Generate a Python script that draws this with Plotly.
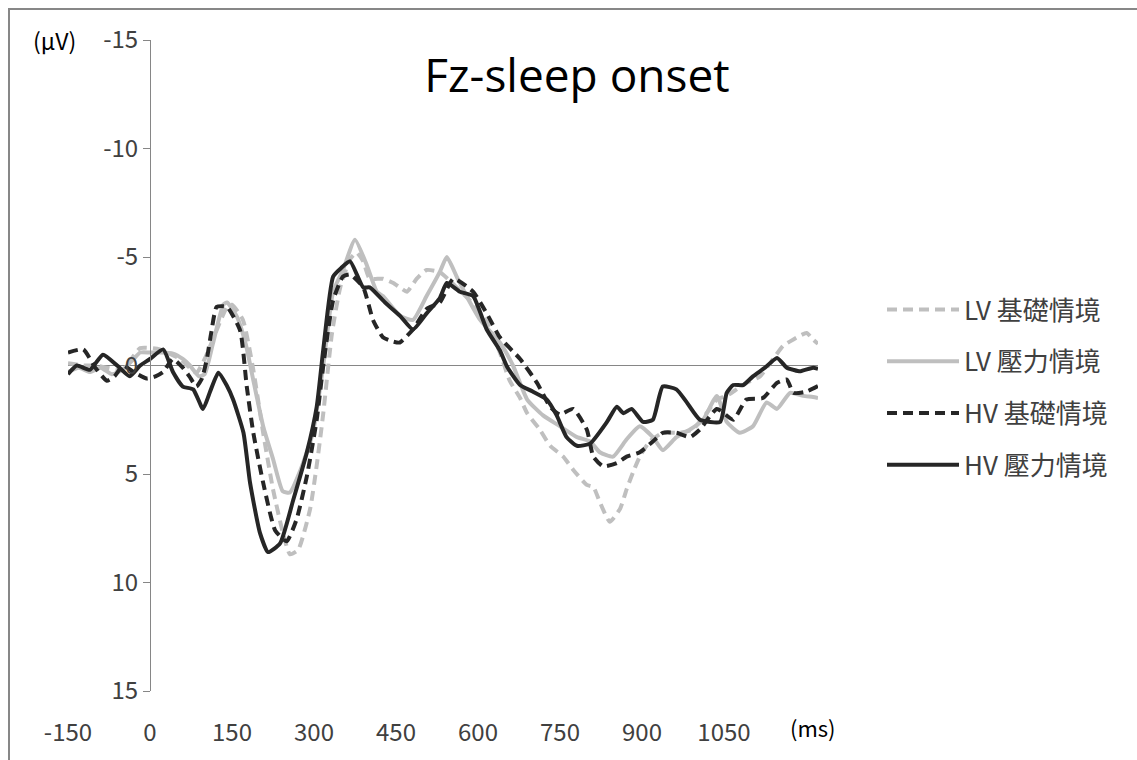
import plotly.graph_objects as go

# ---------------- data ----------------
series_names = ["LV 基礎情境", "LV 壓力情境", "HV 基礎情境", "HV 壓力情境"]

lv_base_t = [-150, -122, -100, -79, -50, -18, 18, 55, 85, 100, 115, 141, 150, 170, 189, 207, 225, 243, 256,
             271, 293, 305, 317, 333, 348, 366, 378, 390, 402, 426, 445, 457, 470, 488, 506, 530, 561, 585,
             616, 640, 658, 677, 690, 713, 732, 756, 774, 799, 811, 823, 841, 860, 872, 884, 896, 914, 938,
             969, 993, 1018, 1037, 1055, 1073, 1091, 1116, 1140, 1158, 1177, 1201, 1213, 1222]
lv_base_v = [-0.1, 0.0, 0.0, 0.1, 0.2, -0.8, -0.74, -0.3, 0.33, -0.3, -1.2, -2.7, -2.8, -2.1, 0.2, 3.1, 5.7,
             7.7, 8.7, 8.5, 6.6, 4.6, 2.2, -1.5, -3.6, -4.9, -5.2, -4.8, -4.0, -4.0, -3.8, -3.6, -3.4, -4.0,
             -4.4, -4.3, -3.6, -3.0, -2.0, -0.6, 0.7, 1.5, 2.2, 2.95, 3.7, 4.2, 4.8, 5.5, 5.6, 6.3, 7.2, 6.6,
             5.7, 4.9, 4.2, 3.5, 3.1, 3.1, 2.95, 2.2, 1.57, 1.4, 1.1, 0.8, 0.5, -0.3, -0.9, -1.2, -1.5, -1.2, -1.0]

lv_stress_t = [-150, -130, -110, -90, -70, -50, -30, -18, 0, 20, 42, 60, 73, 90, 100, 115, 134, 141, 160, 175,
               190, 207, 225, 243, 256, 274, 298, 317, 335, 353, 375, 397, 415, 426, 457, 481, 506, 530, 543,
               561, 579, 604, 640, 664, 690, 719, 750, 781, 805, 823, 847, 872, 896, 920, 938, 963, 988, 1012,
               1037, 1055, 1079, 1103, 1128, 1147, 1171, 1195, 1213, 1222]
lv_stress_v = [0.3, 0.1, 0.3, 0.1, 0.4, 0.2, -0.3, -0.6, -0.6, -0.6, -0.55, -0.3, 0.0, 0.5, 0.4, -1.0, -2.8,
               -2.9, -2.2, -1.0, 0.8, 2.8, 4.3, 5.8, 5.85, 4.9, 3.1, 0.0, -3.4, -4.4, -5.8, -4.6, -3.4, -3.2,
               -2.3, -2.1, -3.2, -4.3, -5.0, -4.1, -3.2, -2.1, -1.06, 0.0, 1.57, 2.3, 2.8, 3.3, 3.5, 4.0, 4.2,
               3.4, 2.8, 3.3, 3.9, 3.3, 2.95, 2.5, 1.4, 2.6, 3.1, 2.8, 1.7, 2.0, 1.26, 1.4, 1.45, 1.5]

hv_base_t = [-150, -122, -100, -79, -65, -49, -30, -6, 10, 24, 42, 60, 72, 85, 95, 104, 112, 122, 141, 165,
             177, 189, 207, 229, 250, 268, 287, 305, 317, 335, 353, 366, 390, 408, 426, 445, 457, 481, 506,
             530, 555, 591, 616, 640, 677, 708, 732, 750, 774, 799, 811, 829, 854, 872, 896, 920, 938, 963,
             988, 1006, 1037, 1067, 1091, 1121, 1147, 1165, 1177, 1201, 1222]
hv_base_v = [-0.6, -0.74, 0.1, 0.7, 0.5, 0.0, 0.3, 0.6, 0.5, 0.3, -0.3, 0.1, 0.5, 0.97, 0.6, -0.3, -1.5,
             -2.7, -2.7, -1.6, 0.97, 3.1, 5.4, 7.6, 8.1, 7.1, 5.1, 2.5, 0.0, -3.0, -4.1, -4.2, -3.6, -2.1,
             -1.3, -1.1, -1.06, -1.66, -2.6, -2.9, -4.0, -3.4, -2.4, -1.3, -0.3, 0.8, 1.9, 2.26, 2.0, 2.95,
             4.2, 4.65, 4.5, 4.2, 4.0, 3.5, 3.1, 3.1, 3.3, 2.95, 2.0, 2.5, 1.57, 1.5, 0.8, 0.65, 1.26, 1.2, 0.95]

hv_stress_t = [-150, -134, -110, -86, -60, -37, -18, 0, 24, 42, 60, 79, 97, 110, 125, 140, 152, 171, 183, 201,
               216, 238, 262, 287, 305, 317, 335, 350, 366, 390, 402, 430, 457, 481, 506, 530, 543, 567, 591,
               616, 640, 653, 677, 700, 726, 744, 762, 781, 805, 836, 854, 866, 881, 902, 920, 938, 963, 982,
               1006, 1043, 1055, 1067, 1085, 1103, 1125, 1147, 1165, 1177, 1189, 1213, 1222]
hv_stress_v = [0.4, 0.0, 0.2, -0.5, 0.0, 0.5, 0.0, -0.3, -0.74, 0.3, 0.97, 1.1, 2.0, 1.2, 0.33, 0.9, 1.57, 3.1,
               5.4, 7.7, 8.6, 8.2, 6.2, 4.0, 1.9, -0.74, -4.1, -4.5, -4.8, -3.6, -3.6, -2.9, -2.3, -1.66, -2.4,
               -3.1, -3.8, -3.4, -3.2, -1.66, -0.7, 0.05, 0.9, 1.2, 1.57, 2.3, 3.3, 3.7, 3.6, 2.6, 1.9, 2.2,
               2.0, 2.6, 2.5, 0.97, 1.1, 1.7, 2.5, 2.6, 1.26, 0.9, 0.9, 0.5, 0.1, -0.35, 0.1, 0.2, 0.27, 0.1, 0.15]

x_ticks = [-150, 0, 150, 300, 450, 600, 750, 900, 1050]
y_ticks = [-15, -10, -5, 0, 5, 10, 15]

# ---------------- figure ----------------
W, H = 1137, 760
ML, MR, MT, MB = 68, 319, 40, 69
PW, PH = W - ML - MR, H - MT - MB

GRAY = "#bfbfbf"
DARK = "#262626"
styles = [
    dict(color=GRAY, width=4, dash="10px,6px"),
    dict(color=GRAY, width=4),
    dict(color=DARK, width=4, dash="10px,6px"),
    dict(color=DARK, width=4),
]
data = [(lv_base_t, lv_base_v), (lv_stress_t, lv_stress_v), (hv_base_t, hv_base_v), (hv_stress_t, hv_stress_v)]

fig = go.Figure()
for i, (name, (t, v)) in enumerate(zip(series_names, data)):
    ln = dict(styles[i])
    ln.update(shape="spline", smoothing=0.5)
    fig.add_trace(go.Scatter(x=t, y=v, mode="lines", name=name, line=ln,
                             legendgroup=str(i)))

font_main = "Noto Sans CJK TC, sans-serif"
TXT = "#404040"

def px_x(p):
    return (p - ML) / PW

def px_y(p):
    return (H - MB - p) / PH

fig.update_layout(
    width=W, height=H,
    margin=dict(l=ML, r=MR, t=MT, b=MB),
    paper_bgcolor="white", plot_bgcolor="white",
    font=dict(family=font_main, size=24, color=TXT),
    title=dict(text="Fz-sleep onset", x=px_x(577), xref="paper", xanchor="center",
               y=1 - 76 / H, yanchor="middle",
               font=dict(size=46, color="black", family="Open Sans, sans-serif")),
    showlegend=True,
    legend=dict(x=px_x(882), y=px_y(286), xanchor="left", yanchor="top",
                font=dict(size=26, color=TXT), tracegroupgap=15, itemwidth=72,
                bgcolor="rgba(0,0,0,0)"),
    xaxis=dict(range=[-150, 1222], tickvals=x_ticks, ticktext=[str(v) for v in x_ticks],
               showgrid=False, zeroline=False, showline=False, ticks="",
               ticklabelstandoff=25, tickfont=dict(size=24, color=TXT)),
    yaxis=dict(range=[15, -15], tickvals=y_ticks, ticktext=[str(v) for v in y_ticks],
               showgrid=False, zeroline=True, zerolinecolor="#868686", zerolinewidth=1,
               showline=True, linecolor="#868686", linewidth=1,
               ticks="outside", ticklen=7, tickcolor="#868686",
               anchor="free", position=(150 - ML) / PW,
               tickfont=dict(size=24, color=TXT)),
    annotations=[
        dict(text="(µV)", x=px_x(54), y=px_y(40), xref="paper", yref="paper",
             xanchor="center", yanchor="middle",
             showarrow=False, font=dict(size=23, color="#000000")),
        dict(text="(ms)", x=px_x(813), y=px_y(727), xref="paper", yref="paper",
             xanchor="center", yanchor="middle",
             showarrow=False, font=dict(size=22, color="#000000")),
    ],
    shapes=[
        dict(type="rect", xref="paper", yref="paper",
             x0=px_x(9), y0=px_y(H + 10), x1=px_x(W + 10), y1=px_y(9),
             line=dict(color="#878787", width=2), fillcolor="rgba(0,0,0,0)", layer="below"),
    ],
)

fig.write_html("out.html")
